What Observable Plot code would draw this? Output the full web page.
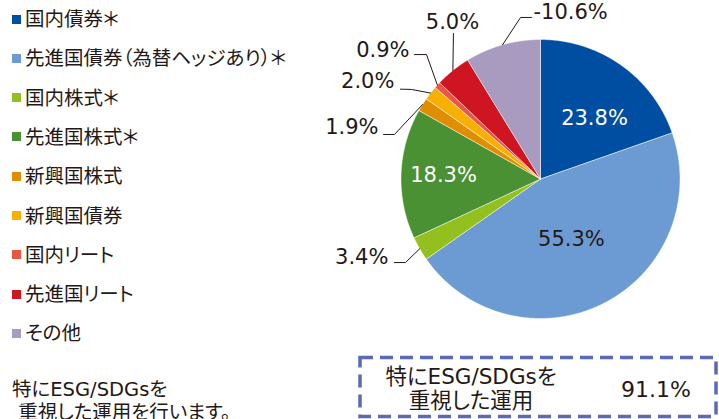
<!DOCTYPE html>
<html><head><meta charset="utf-8">
<script src="https://cdn.jsdelivr.net/npm/d3@7"></script>
<script src="https://cdn.jsdelivr.net/npm/@observablehq/plot@0.6"></script>
<style>
body{margin:0;background:#fff;}
#wrap{position:relative;width:719px;height:419px;overflow:hidden;font-family:"DejaVu Sans","Noto Sans CJK JP",sans-serif;color:#231815;font-feature-settings:"palt";}
#wrap > svg{position:absolute;left:0;top:0;}
.leg{position:absolute;left:12px;font-size:19.5px;line-height:24px;white-space:nowrap;display:flex;align-items:center;}
.leg .sw{display:inline-block;width:9px;height:9px;margin-right:4px;position:relative;top:-1px;}
.note{position:absolute;left:12px;font-size:19.5px;line-height:24px;white-space:pre;}
</style></head><body><div id="wrap"></div>
<script>
// ---- data ----
const categories = ["国内債券＊","先進国債券（為替ヘッジあり）＊","国内株式＊","先進国株式＊","新興国株式","新興国債券","国内リート","先進国リート","その他"];
const values = [23.8, 55.3, 3.4, 18.3, 1.9, 2.0, 0.9, 5.0, -10.6];
const colors = ["#004ea2","#6b9bd2","#93c01f","#4a9133","#e08e00","#f8b000","#ea5544","#cf1521","#a99bbf"];
const esgLabel = ["特にESG/SDGsを","重視した運用"];
const esgValue = 91.1;
const noteLines = ["特にESG/SDGsを"," 重視した運用を行います。"];

// ---- label layout (unit-circle coordinates) ----
const labelLayout = {
  "国内債券＊": {x:0.387, y:0.434, fill:"white", anchor:"middle"},
  "先進国債券（為替ヘッジあり）＊": {x:0.222, y:-0.434, fill:"#231815", anchor:"middle"},
  "国内株式＊": {x:-1.090, y:-0.563, anchor:"end", path:[[-1.047,-0.599],[-0.968,-0.599]]},
  "先進国株式＊": {x:-0.695, y:0.025, fill:"white", anchor:"middle"},
  "新興国株式": {x:-1.161, y:0.369, anchor:"end", path:[[-1.125,0.319],[-1.047,0.319]]},
  "新興国債券": {x:-1.047, y:0.699, anchor:"end", path:[[-1.004,0.644],[-0.925,0.642]]},
  "国内リート": {x:-0.939, y:0.921, anchor:"end", path:[[-0.903,0.892],[-0.817,0.892]]},
  "先進国リート": {x:-0.631, y:1.122, anchor:"middle", path:[[-0.624,1.043]]},
  "その他": {x:-0.050, y:1.194, anchor:"start", path:[[-0.065,1.158],[-0.143,1.158]]}
};

const rows = categories.map((name,i)=>({name, value:values[i], color:colors[i]}));
const arcs = d3.pie().sort(null).value(d=>Math.abs(d.value)).startAngle(0).endAngle(2*Math.PI)(rows);

// slice outlines
const slicePts = [];
arcs.forEach(a=>{
  const name = a.data.name;
  slicePts.push({name, x:0, y:0});
  const n = Math.max(2, Math.ceil((a.endAngle-a.startAngle)/0.005));
  for(let k=0;k<=n;k++){
    const t = a.startAngle + (a.endAngle-a.startAngle)*k/n;
    slicePts.push({name, x:Math.sin(t), y:Math.cos(t)});
  }
  slicePts.push({name, x:0, y:0});
});

const fmt = v => d3.format(".1f")(v).replace("\u2212","-") + "%";
const labels = arcs.map(a=>{
  const L = labelLayout[a.data.name];
  return {name:a.data.name, text:fmt(a.data.value), x:L.x, y:L.y, fill:L.fill||"#231815", anchor:L.anchor};
});
const leaders = [];
arcs.forEach(a=>{
  const L = labelLayout[a.data.name];
  if(!L.path) return;
  const mid = (a.startAngle+a.endAngle)/2;
  L.path.forEach(p=>leaders.push({name:a.data.name, x:p[0], y:p[1]}));
  leaders.push({name:a.data.name, x:Math.sin(mid), y:Math.cos(mid)});
});

const pie = Plot.plot({
  width:719, height:419,
  x:{domain:[-1,1], range:[400.5,679.5], axis:null},
  y:{domain:[-1,1], range:[318,39], axis:null},
  color:{domain:categories, range:colors},
  style:{fontFamily:"'DejaVu Sans','Noto Sans CJK JP',sans-serif", background:"transparent"},
  marks:[
    Plot.line(slicePts, {x:"x", y:"y", z:"name", fill:"name", stroke:"white", strokeWidth:0.6, strokeOpacity:0.8}),
    Plot.line(leaders, {x:"x", y:"y", z:"name", stroke:"#231815", strokeWidth:1}),
    ...["start","middle","end"].map(anc=>Plot.text(labels.filter(d=>d.anchor===anc), {x:"x", y:"y", text:"text", fill:d=>d.fill, textAnchor:anc, fontSize:21}))
  ]
});
document.getElementById("wrap").appendChild(pie);

// legend
const wrap = document.getElementById("wrap");
categories.forEach((c,i)=>{
  const d = document.createElement("div");
  d.className="leg";
  d.style.top = (20 + i*39.3 - 12) + "px";
  d.innerHTML = `<span class="sw" style="background:${colors[i]}"></span><span>${c}</span>`;
  wrap.appendChild(d);
});
noteLines.forEach((t,i)=>{
  const d = document.createElement("div");
  d.className="note";
  d.style.top = (390 + i*23 - 12) + "px";
  d.textContent = t;
  wrap.appendChild(d);
});

// ESG box
const svg = d3.select(wrap).append("svg").attr("width",719).attr("height",419)
  .style("font-family","'DejaVu Sans','Noto Sans CJK JP',sans-serif").style("font-feature-settings","'palt'");
svg.append("rect").attr("x",360).attr("y",357.5).attr("width",356).attr("height",59)
  .attr("fill","none").attr("stroke","#5b6ab4").attr("stroke-width",3.5).attr("stroke-dasharray","13 7");
esgLabel.forEach((t,i)=>{
  svg.append("text").attr("x",471).attr("y",376.5 + i*24).attr("text-anchor","middle")
    .attr("dominant-baseline","central").attr("font-size",21.5).attr("fill","#231815").text(t);
});
svg.append("text").attr("x",656).attr("y",389).attr("text-anchor","middle")
  .attr("dominant-baseline","central").attr("font-size",22).attr("fill","#231815").text(fmt(esgValue));
</script></body></html>
